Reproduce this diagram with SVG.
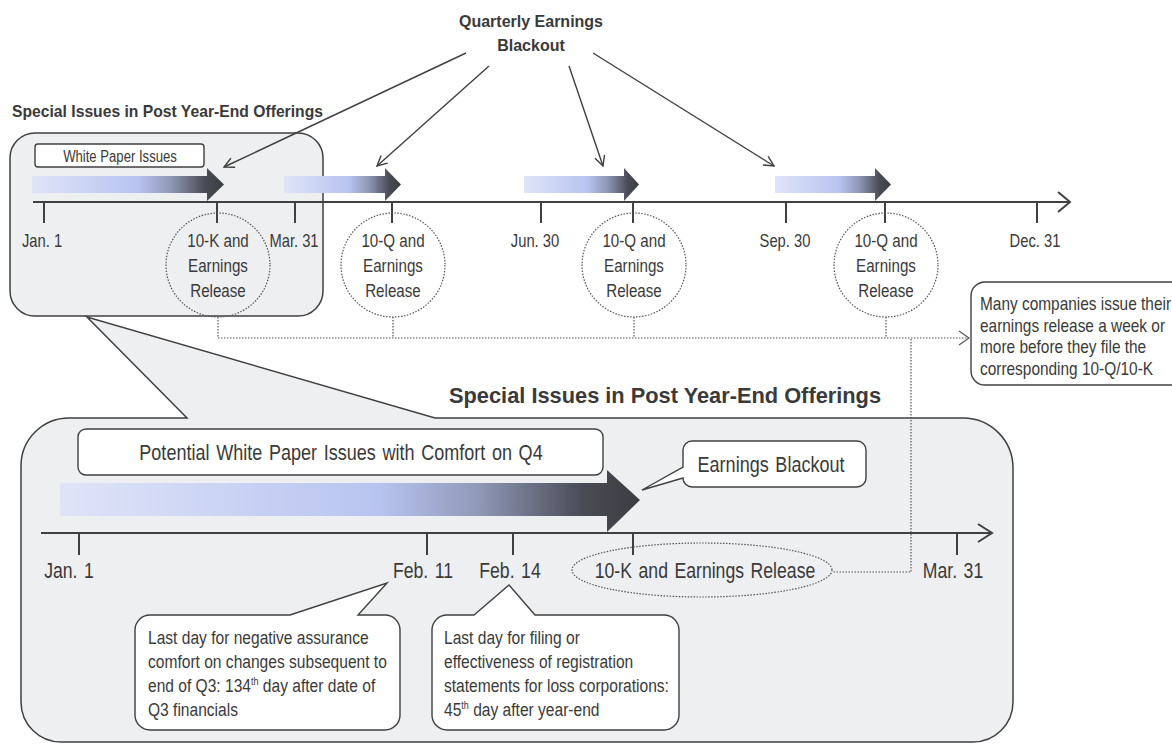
<svg xmlns="http://www.w3.org/2000/svg" width="1172" height="744" viewBox="0 0 1172 744">
<style>
.n{font-family:'Liberation Sans',Arial,sans-serif;fill:#3a3a3a}
.nc{text-anchor:middle;transform-box:fill-box;transform-origin:50% 50%;transform:scaleX(0.82)}
.nl{transform-box:fill-box;transform-origin:0 50%;transform:scaleX(0.82)}
.b{font-family:'Liberation Sans',Arial,sans-serif;font-weight:bold;fill:#3a3a3a}
.c{text-anchor:middle}
.ln{stroke:#404040;stroke-width:1.4;fill:none}
.ax{stroke:#404040;stroke-width:2;fill:none}
.dot{stroke:#555;stroke-width:1.2;fill:none;stroke-dasharray:1.5 1.5}
.box{fill:#eeeff1;stroke:#404040;stroke-width:1.5}
.wb{fill:#fff;stroke:#404040;stroke-width:1.4}
</style>
<defs>
<linearGradient id="g" x1="0" y1="0" x2="1" y2="0">
<stop offset="0" stop-color="#e0e4f8"/>
<stop offset="0.55" stop-color="#b8c4f0"/>
<stop offset="0.72" stop-color="#9199b8"/>
<stop offset="0.9" stop-color="#4a4c55"/>
<stop offset="1" stop-color="#3c3d42"/>
</linearGradient>
<marker id="oa" viewBox="0 0 12 12" refX="11" refY="6" markerWidth="12" markerHeight="12" markerUnits="userSpaceOnUse" orient="auto">
<path d="M1,1 L11,6 L1,11" fill="none" stroke="#404040" stroke-width="1.4"/>
</marker>
<marker id="od" viewBox="0 0 12 16" refX="11" refY="8" markerWidth="12" markerHeight="16" markerUnits="userSpaceOnUse" orient="auto">
<path d="M1,1 L11,8 L1,15" fill="none" stroke="#555" stroke-width="1.2"/>
</marker>
</defs>

<!-- upper panel -->
<g id="upper-box">
<text class="b" x="12" y="117" font-size="15.7">Special Issues in Post Year-End Offerings</text>
<rect class="box" x="10" y="133" width="313" height="183" rx="25"/>
</g>

<g id="blackout-title">
<text class="b c" x="531" y="27" font-size="16">Quarterly Earnings</text>
<text class="b c" x="531" y="51" font-size="16">Blackout</text>
</g>

<g id="white-paper-label">
<rect class="wb" x="35" y="144" width="169" height="23" rx="3"/>
<text class="n nc" x="120" y="162" font-size="16">White Paper Issues</text>
</g>

<g id="bars-top">
<path fill="url(#g)" d="M32,176 H207 V168 L224,184.5 L207,201 V193 H32 Z"/>
<path fill="url(#g)" d="M284,176 H385 V168 L401,184.5 L385,201 V193 H284 Z"/>
<path fill="url(#g)" d="M524,176 H624 V168 L639,184.5 L624,201 V193 H524 Z"/>
<path fill="url(#g)" d="M775,176 H875 V168 L891,184.5 L875,201 V193 H775 Z"/>
</g>

<g id="timeline-top">
<path class="ax" d="M33,202 H1069"/>
<path class="ax" d="M1058,192 L1070,202 L1058,212"/>
<path class="ax" d="M44,202 V223 M217,202 V223 M295,202 V223 M392,202 V223 M541,202 V223 M633,202 V223 M786,202 V223 M885,202 V223 M1037,202 V223"/>
<text class="n nc" x="42" y="247" font-size="18">Jan. 1</text>
<text class="n nc" x="294" y="247" font-size="18">Mar. 31</text>
<text class="n nc" x="535" y="247" font-size="18">Jun. 30</text>
<text class="n nc" x="785" y="247" font-size="18">Sep. 30</text>
<text class="n nc" x="1035" y="247" font-size="18">Dec. 31</text>
</g>

<g id="release-q4">
<circle class="dot" cx="218" cy="265" r="52"/>
<text class="n nc" x="218" y="247" font-size="18.5">10-K and</text>
<text class="n nc" x="218" y="272" font-size="18.5">Earnings</text>
<text class="n nc" x="218" y="297" font-size="18.5">Release</text>
</g>
<g id="release-q1">
<circle class="dot" cx="393" cy="265" r="52"/>
<text class="n nc" x="393" y="247" font-size="18.5">10-Q and</text>
<text class="n nc" x="393" y="272" font-size="18.5">Earnings</text>
<text class="n nc" x="393" y="297" font-size="18.5">Release</text>
</g>
<g id="release-q2">
<circle class="dot" cx="634" cy="265" r="52"/>
<text class="n nc" x="634" y="247" font-size="18.5">10-Q and</text>
<text class="n nc" x="634" y="272" font-size="18.5">Earnings</text>
<text class="n nc" x="634" y="297" font-size="18.5">Release</text>
</g>
<g id="release-q3">
<circle class="dot" cx="886" cy="265" r="52"/>
<text class="n nc" x="886" y="247" font-size="18.5">10-Q and</text>
<text class="n nc" x="886" y="272" font-size="18.5">Earnings</text>
<text class="n nc" x="886" y="297" font-size="18.5">Release</text>
</g>

<g id="note-right">
<rect fill="#fff" stroke="#404040" stroke-width="1.4" x="971" y="282" width="220" height="103" rx="14"/>
<text class="n nl" x="980" y="310" font-size="18.8">Many companies issue their</text>
<text class="n nl" x="980" y="332" font-size="18.8">earnings release a week or</text>
<text class="n nl" x="980" y="353" font-size="18.8">more before they file the</text>
<text class="n nl" x="980" y="375" font-size="18.8">corresponding 10-Q/10-K</text>
</g>

<!-- lower panel -->
<g id="lower-box">
<path class="box" d="M69,418 H187 L87,317 L435,418 H963 A50,50 0 0 1 1013,468 V702 A40,40 0 0 1 973,742 H61 A40,40 0 0 1 21,702 V466 A48,48 0 0 1 69,418 Z"/>
<text class="b" x="449" y="403" font-size="21.8">Special Issues in Post Year-End Offerings</text>
</g>

<g id="potential-label">
<rect class="wb" x="78" y="429" width="525" height="46" rx="8"/>
<text class="n nc" x="341" y="460" font-size="22" word-spacing="2">Potential White Paper Issues with Comfort on Q4</text>
</g>

<g id="bar-lower">
<path fill="url(#g)" d="M60,483 H607 V470 L640,500 L607,532 V516 H60 Z"/>
</g>

<g id="earnings-blackout">
<path class="wb" d="M692,441 H857 A9,9 0 0 1 866,450 V478 A9,9 0 0 1 857,487 H692 A9,9 0 0 1 683,478 L642,490 L683,467 V450 A9,9 0 0 1 692,441 Z"/>
<text class="n nc" x="771" y="472" font-size="22" word-spacing="2">Earnings Blackout</text>
</g>

<g id="timeline-lower">
<path class="ax" d="M41,533 H991"/>
<path class="ax" d="M978,524 L992,533 L978,542"/>
<path class="ax" d="M79,533 V555 M427,533 V555 M513,533 V555 M633,533 V555 M957,533 V555"/>
<text class="n nc" x="69" y="578" font-size="21.5" word-spacing="2">Jan. 1</text>
<text class="n nc" x="423" y="578" font-size="21.5" word-spacing="2">Feb. 11</text>
<text class="n nc" x="510" y="578" font-size="21.5" word-spacing="2">Feb. 14</text>
<text class="n nc" x="953" y="578" font-size="21.5" word-spacing="2">Mar. 31</text>
</g>

<g id="release-lower">
<ellipse class="dot" cx="702" cy="570" rx="130" ry="27" fill="#fff"/>
<text class="n nc" x="705" y="578" font-size="21.5" word-spacing="2">10-K and Earnings Release</text>
</g>

<g id="note-feb11">
<path class="wb" d="M150,615 H290 L387,583 L358,615 H385 A15,15 0 0 1 400,630 V715 A15,15 0 0 1 385,730 H150 A15,15 0 0 1 135,715 V630 A15,15 0 0 1 150,615 Z"/>
<text class="n nl" x="148" y="644" font-size="19">Last day for negative assurance</text>
<text class="n nl" x="148" y="668" font-size="19">comfort on changes subsequent to</text>
<text class="n nl" x="148" y="692" font-size="19">end of Q3: 134<tspan font-size="11" dy="-7">th</tspan><tspan dy="7"> day after date of</tspan></text>
<text class="n nl" x="148" y="716" font-size="19">Q3 financials</text>
</g>

<g id="note-feb14">
<path class="wb" d="M447,615 H474 L509,585 L535,615 H664 A15,15 0 0 1 679,630 V715 A15,15 0 0 1 664,730 H447 A15,15 0 0 1 432,715 V630 A15,15 0 0 1 447,615 Z"/>
<text class="n nl" x="444" y="644" font-size="19">Last day for filing or</text>
<text class="n nl" x="444" y="668" font-size="19">effectiveness of registration</text>
<text class="n nl" x="444" y="692" font-size="19">statements for loss corporations:</text>
<text class="n nl" x="444" y="716" font-size="19">45<tspan font-size="11" dy="-7">th</tspan><tspan dy="7"> day after year-end</tspan></text>
</g>

<g id="connectors">
<path class="ln" marker-end="url(#oa)" d="M466,53 L224,167"/>
<path class="ln" marker-end="url(#oa)" d="M489,66 L377,166"/>
<path class="ln" marker-end="url(#oa)" d="M569,66 L603,166"/>
<path class="ln" marker-end="url(#oa)" d="M593,53 L774,166"/>
<path class="dot" d="M218,317 V338 M393,317 V338 M634,317 V338 M886,317 V338"/>
<path class="dot" marker-end="url(#od)" d="M218,338 H969"/>
<path class="dot" d="M911,339 V572 H832"/>
</g>
</svg>
